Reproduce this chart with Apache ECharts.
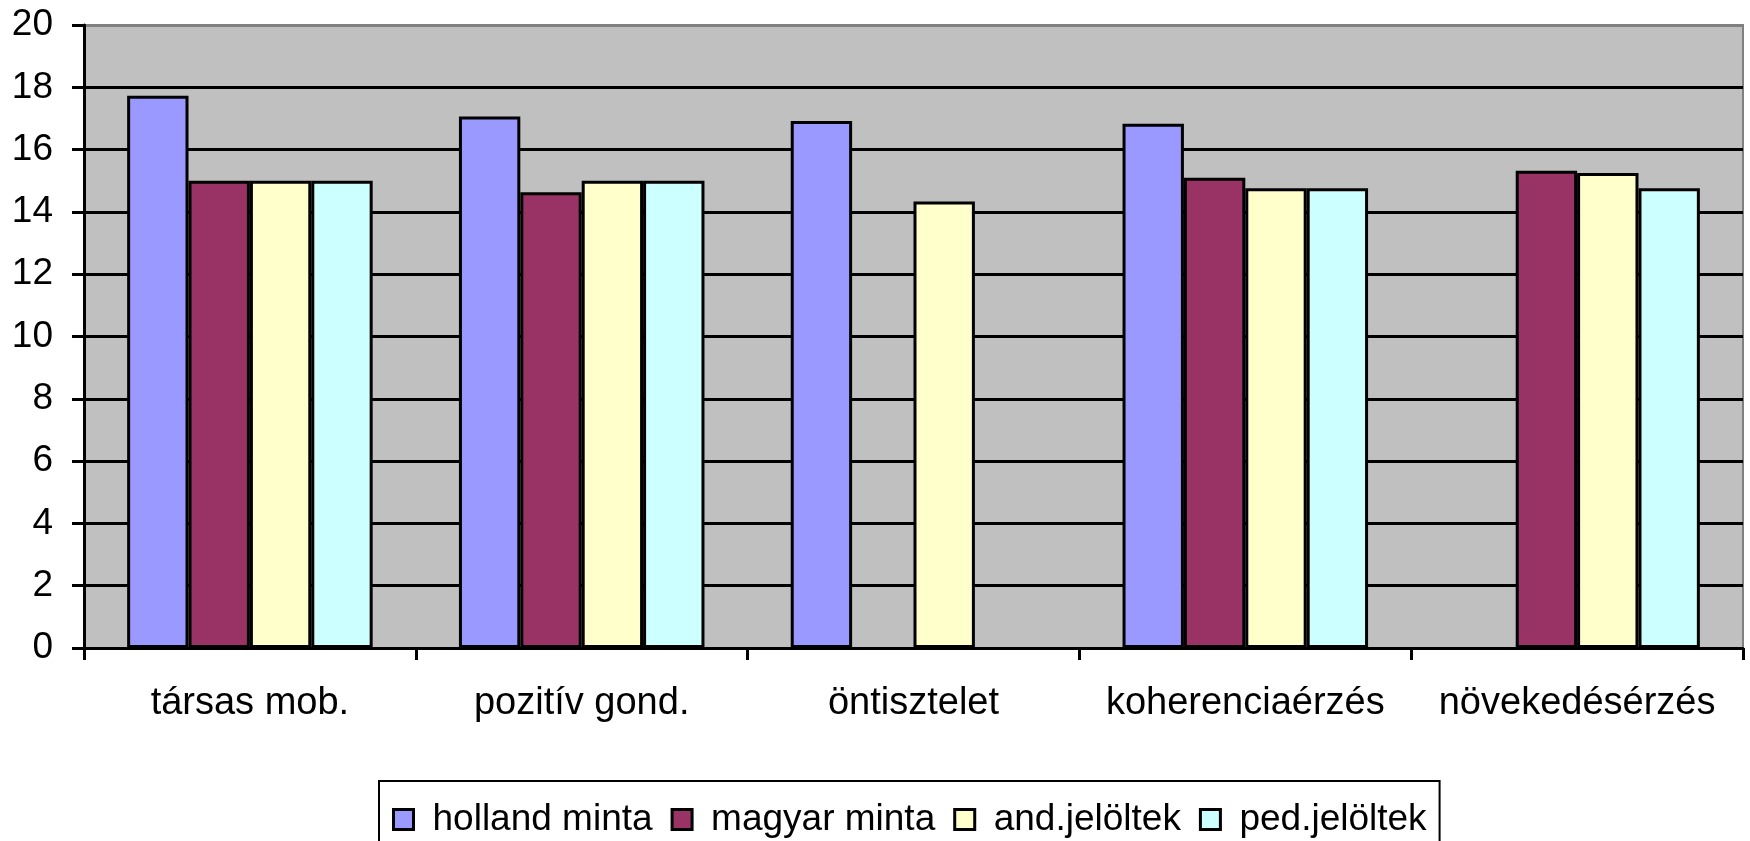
<!DOCTYPE html>
<html>
<head>
<meta charset="utf-8">
<script src="https://cdn.jsdelivr.net/npm/echarts@6/dist/echarts.min.js"></script>
<style>html,body{margin:0;padding:0;background:#fff;}#chart{width:1750px;height:841px;}</style>
</head>
<body>
<div id="chart"></div>
<script>
const categories = ['társas mob.', 'pozitív gond.', 'öntisztelet', 'koherenciaérzés', 'növekedésérzés'];
const seriesNames = ['holland minta', 'magyar minta', 'and.jelöltek', 'ped.jelöltek'];
const hollandMinta = [17.73, 17.06, 16.92, 16.83, null];
const magyarMinta = [15.0, 14.63, null, 15.1, 15.32];
const andJeloltek = [15.0, 15.0, 14.33, 14.76, 15.25];
const pedJeloltek = [15.0, 15.0, null, 14.76, 14.76];
const yTicks = [0, 2, 4, 6, 8, 10, 12, 14, 16, 18, 20];
const colors = ['#9999FF', '#993366', '#FFFFCC', '#CCFFFF'];

const values = [hollandMinta, magyarMinta, andJeloltek, pedJeloltek];
const font = 'Liberation Sans, Arial, sans-serif';
const chart = echarts.init(document.getElementById('chart'), null, {renderer: 'canvas'});
chart.setOption({
  animation: false,
  textStyle: {fontFamily: font},
  grid: {left: 84, top: 25, right: 7, bottom: 193, show: true, backgroundColor: '#C0C0C0', borderColor: '#808080', borderWidth: 2},
  legend: {
    left: 379, top: 781,
    padding: [20, 13, 40, 13],
    borderColor: '#000', borderWidth: 2,
    itemWidth: 20, itemHeight: 20, itemGap: 18,
    icon: 'rect',
    itemStyle: {borderColor: '#000', borderWidth: 3},
    textStyle: {fontSize: 37, color: '#000', fontFamily: font, padding: [0, 0, 0, 14]},
    data: seriesNames
  },
  xAxis: {
    type: 'category',
    data: categories,
    axisLine: {lineStyle: {color: '#000', width: 3}},
    axisTick: {show: true, length: 12, lineStyle: {color: '#000', width: 3}},
    axisLabel: {fontSize: 38, color: '#000', margin: 37, fontFamily: font, interval: 0},
    splitLine: {show: false}
  },
  yAxis: {
    type: 'value', min: yTicks[0], max: yTicks[yTicks.length - 1], interval: 2,
    axisLine: {show: true, lineStyle: {color: '#000', width: 3}},
    axisTick: {show: true, length: 12, lineStyle: {color: '#000', width: 3}},
    axisLabel: {fontSize: 37, color: '#000', margin: 31, fontFamily: font},
    splitLine: {show: true, lineStyle: {color: ['#000','#000','#000','#000','#000','#000','#000','#000','#000','#000','#808080'], width: 3}}
  },
  series: seriesNames.map((name, i) => ({
    name: name,
    type: 'bar',
    data: values[i],
    barGap: '0%',
    barCategoryGap: '26%',
    itemStyle: {color: colors[i], borderColor: '#000', borderWidth: 3}
  }))
});
</script>
</body>
</html>
